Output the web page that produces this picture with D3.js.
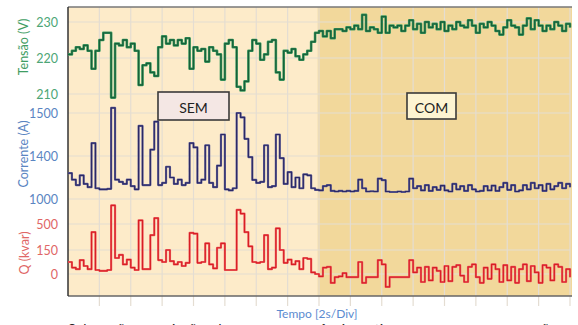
<!DOCTYPE html>
<html><head><meta charset="utf-8">
<script src="https://cdn.jsdelivr.net/npm/d3@7"></script>
<style>body{margin:0;background:#fff}svg{display:block}</style>
</head><body><svg id="c" width="578" height="325"></svg>
<script>
// time axis: 16 divisions of 2 s
const timeStep = 0.25;           // s between samples
const timeMax = 32;              // s
const boundaryT = 15.9;          // s, SEM -> COM
const xTicks = d3.range(0, 33, 2);

const voltage = [221,222,223,222.5,223.5,222,217,222,225,227,227,209,224,223.5,225,223,224,222,212.5,218,
218.5,216,215,223,226,224,225,223.5,225,224,225.5,217,223,222,222.5,219,223,222,221,214,
224,225,223,212,211,213.5,222,225,224,219.5,221,224.5,225,216,214,222,221.5,222.5,220.5,219.5,
221,222,224.5,227,227.5,226,227.5,225.5,228,228,227.5,228.5,228,229,228,232,227.5,228.5,228,227,
231.5,227,229,228.5,229,227.5,229,230.5,228,229.5,227,230,228.5,229.5,228,230,227.5,229,228,230,
229,228.5,230.5,229,227,229.5,228.5,230,229,227.5,226.5,228.5,230.5,229,228.5,226.5,229,231,228,230.5,
229,227.5,229,228,230,229,227.5,229.5,228.5];

const current = [1240,1180,1130,1220,1140,1110,1430,1100,1090,1090,1095,1512,1180,1160,1140,1180,1120,1090,1470,1130,
1130,1415,1480,1130,1150,1300,1200,1140,1180,1130,1150,1430,1420,1150,1180,1425,1150,1110,1310,1450,
1090,1080,1100,1500,1490,1440,1390,1177,1150,1160,1425,1110,1120,1450,1380,1140,1250,1110,1200,1100,
1230,1220,1100,1084,1080,1120,1130,1075,1070,1075,1070,1075,1070,1075,1180,1100,1070,1072,1070,1190,
1175,1070,1065,1065,1070,1065,1070,1190,1100,1120,1080,1130,1075,1110,1085,1125,1080,1070,1140,1090,
1120,1075,1130,1090,1070,1075,1120,1080,1125,1075,1110,1150,1085,1130,1070,1080,1130,1090,1150,1100,
1130,1075,1140,1090,1120,1150,1100,1140,1110];

const reactive = [75,40,30,87,50,30,390,25,20,20,25,750,100,119,60,90,40,25,550,30,
30,350,580,87,75,150,80,60,75,50,70,380,370,70,75,240,60,35,180,240,
25,25,25,690,640,390,200,75,70,75,350,30,40,440,150,70,90,60,80,30,
100,95,10,0,-15,40,45,-56,-20,-15,5,-20,-20,-20,75,-56,-20,-20,-20,87,
60,-81,-20,-20,-20,-20,-20,87,10,40,-50,45,-40,40,20,-50,50,-45,45,55,
-10,-50,45,60,-20,-55,40,-30,60,30,-50,55,-40,45,-55,30,60,-45,50,10,
-55,55,40,-40,60,45,-50,30,-20];

const tickV = [230,220,210];
const tickA = [1500,1400,1000];
const tickQ = [500,150,0];
const regionLabels = ["SEM","COM"];

const svg = d3.select("#c");
const L = 68, R = 570, T = 7, B = 296;
const x = d3.scaleLinear().domain([0, timeMax]).range([L, R]);
const yV = d3.scaleLinear().domain([210,220,230]).range([94,58,22]);
const yA = d3.scaleLinear().domain([1000,1400,1500]).range([199,156,113]);
const yQ = d3.scaleLinear().domain([0,150,500]).range([274,250,224]);

// background regions
svg.append("rect").attr("x", x(0)).attr("y", T).attr("width", x(boundaryT)-x(0)).attr("height", B-T).attr("fill", "#fdebc9");
svg.append("rect").attr("x", x(boundaryT)).attr("y", T).attr("width", x(timeMax)-x(boundaryT)+2).attr("height", B-T).attr("fill", "#f2d89b");

// vertical grid + ticks below axis
svg.selectAll("line.vg").data(xTicks.slice(1)).enter().append("line")
  .attr("x1", d=>x(d)).attr("x2", d=>x(d)).attr("y1", T).attr("y2", B+10)
  .attr("stroke", "#e4ddd2").attr("stroke-width", 1.2);

// horizontal grid at the tick values
const hg = [].concat(tickV.map(v=>yV(v)), tickA.map(v=>yA(v)), tickQ.map(v=>yQ(v)));
svg.selectAll("line.hg").data(hg).enter().append("line")
  .attr("x1", L).attr("x2", R).attr("y1", d=>d).attr("y2", d=>d)
  .attr("stroke", "#e4ddd2").attr("stroke-width", 1.2);

// frame
svg.append("line").attr("x1", L).attr("x2", R+2).attr("y1", T).attr("y2", T).attr("stroke", "#777").attr("stroke-width", 1.5);
svg.append("line").attr("x1", L).attr("x2", R+2).attr("y1", B).attr("y2", B).attr("stroke", "#666").attr("stroke-width", 1.5);
svg.append("line").attr("x1", L).attr("x2", L).attr("y1", T).attr("y2", B).attr("stroke", "#333").attr("stroke-width", 1.5);

// series
const t = voltage.map((_, i) => i * timeStep);
function draw(data, y, color, w) {
  const line = d3.line().curve(d3.curveStepAfter).x((d,i)=>x(t[i])).y(d=>y(d));
  svg.append("path").datum(data).attr("d", line).attr("fill", "none")
    .attr("stroke", color).attr("stroke-width", w).attr("stroke-linejoin", "round");
}
draw(voltage, yV, "#3f9d63", 2.6);
draw(voltage, yV, "#17603a", 1.3);
draw(current, yA, "#6f6da0", 2.2);
draw(current, yA, "#2a2866", 1.2);
draw(reactive, yQ, "#f06a6a", 2.2);
draw(reactive, yQ, "#d81e24", 1.2);

// y axes
const font = "Lato, 'Open Sans', sans-serif";
function yaxis(scale, ticks, color) {
  const g = svg.append("g").attr("transform", `translate(${L},0)`)
    .call(d3.axisLeft(scale).tickValues(ticks).tickSize(0).tickPadding(10).tickFormat(d3.format("d")));
  g.select(".domain").remove();
  g.selectAll("text").attr("fill", color).style("font-family", font).style("font-size", "12.5px");
}
yaxis(yV, tickV, "#4da676");
yaxis(yA, tickA, "#5a85c2");
yaxis(yQ, tickQ, "#e06666");

function ytitle(txt, cx, cy, color) {
  svg.append("text").attr("transform", `translate(${cx},${cy}) rotate(-90)`)
    .attr("text-anchor", "middle").attr("dominant-baseline", "central")
    .attr("fill", color).style("font-family", font).style("font-size", "12.5px").text(txt);
}
ytitle("Tensão (V)", 23, 47, "#3f9d63");
ytitle("Corrente (A)", 23, 154, "#5a85c2");
ytitle("Q (kvar)", 24, 253, "#e06666");

// region labels
const boxes = [{x0:158, x1:229, y0:92, y1:120, fill:"#f4e7e4"}, {x0:407, x1:456, y0:93, y1:119, fill:"#fdf4d2"}];
boxes.forEach((b, i) => {
  svg.append("rect").attr("x", b.x0).attr("y", b.y0).attr("width", b.x1-b.x0).attr("height", b.y1-b.y0)
    .attr("fill", b.fill).attr("stroke", "#3a3a3a").attr("stroke-width", 1.6);
  svg.append("text").attr("x", (b.x0+b.x1)/2).attr("y", (b.y0+b.y1)/2+1)
    .attr("text-anchor", "middle").attr("dominant-baseline", "central")
    .attr("fill", "#222").style("font-family", font).style("font-size", "14px").text(regionLabels[i]);
});

// x title
svg.append("text").attr("x", 317).attr("y", 318).attr("text-anchor", "middle")
  .attr("fill", "#5b8bd0").style("font-family", font).style("font-size", "12px").text("Tempo [2s/Div]");

// clipped caption line below
svg.append("text").attr("x", 68).attr("y", 334)
  .attr("fill", "#222").style("font-family", font).style("font-size", "14px")
  .text("Subtensões e variações de corrente e potência reativa, sem e com compensação");
</script></body></html>
